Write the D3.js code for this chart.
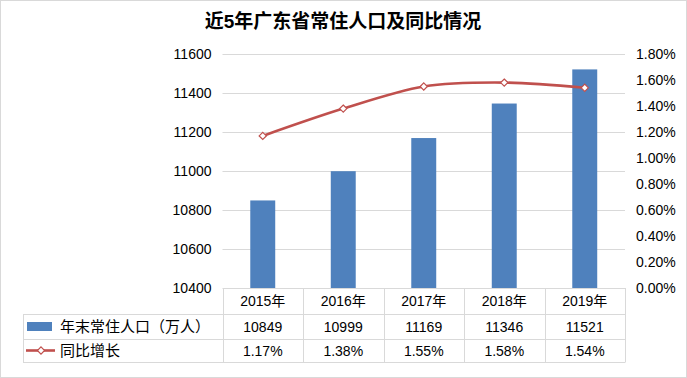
<!DOCTYPE html>
<html>
<head>
<meta charset="utf-8">
<script src="https://cdn.jsdelivr.net/npm/d3@7"></script>
<style>
  html, body { margin: 0; padding: 0; background: #fff; }
  #chart { width: 687px; height: 378px; }
  text { font-family: "Liberation Sans", "Noto Sans CJK SC", sans-serif; fill: #000; }
</style>
</head>
<body>
<div id="chart"></div>
<script>
// Population (bars, left axis) and YoY growth (smoothed line, right axis),
// with an Excel-style data table underneath the plot.
var years = ['2015年', '2016年', '2017年', '2018年', '2019年'];
var population = [10849, 10999, 11169, 11346, 11521];
var growth = [1.17, 1.38, 1.55, 1.58, 1.54];
var leftTicks = [10400, 10600, 10800, 11000, 11200, 11400, 11600];
var rightTicks = [0, 0.2, 0.4, 0.6, 0.8, 1.0, 1.2, 1.4, 1.6, 1.8];
var seriesNames = ['年末常住人口（万人）', '同比增长'];

(function () {
    var W = 687, H = 378;
    var barColor = '#4f81bd', lineColor = '#c0504d', gridColor = '#d9d9d9';
    var plot = { left: 222.5, right: 625, top: 54, bottom: 288 };
    var tableLeft = 23;
    var rowLines = [288, 314, 339, 362];

    var svg = d3.select('#chart').append('svg')
        .attr('width', W).attr('height', H);

    svg.append('rect')
        .attr('x', 0.5).attr('y', 0.5).attr('width', W - 1).attr('height', H - 1)
        .attr('fill', '#fff').attr('stroke', gridColor);

    var x = d3.scaleBand().domain(years).range([plot.left, plot.right]);
    var yL = d3.scaleLinear().domain([10400, 11600]).range([plot.bottom, plot.top]);
    var yR = d3.scaleLinear().domain([0, 1.8]).range([plot.bottom, plot.top]);

    // Title
    svg.append('text')
        .attr('x', 343).attr('y', 28)
        .attr('text-anchor', 'middle')
        .style('font-size', '19px').style('font-weight', 'bold')
        .text('近5年广东省常住人口及同比情况');

    // Gridlines
    svg.append('g').selectAll('line')
        .data(leftTicks.slice(1)).enter().append('line')
        .attr('x1', plot.left).attr('x2', plot.right)
        .attr('y1', function (d) { return Math.round(yL(d)) + 0.5; })
        .attr('y2', function (d) { return Math.round(yL(d)) + 0.5; })
        .attr('stroke', gridColor).attr('stroke-width', 1);

    // Left axis
    var axL = svg.append('g')
        .attr('transform', 'translate(' + (plot.left - 11) + ',0)')
        .call(d3.axisLeft(yL).tickValues(leftTicks).tickSize(0).tickPadding(0)
            .tickFormat(d3.format('d')));
    axL.select('.domain').remove();
    axL.selectAll('text').style('font-size', '14px').attr('dy', '0.35em')
        .style('font-family', '"Liberation Sans", sans-serif').attr('fill', '#000');

    // Right axis
    var axR = svg.append('g')
        .attr('transform', 'translate(' + (plot.right + 11) + ',0)')
        .call(d3.axisRight(yR).tickValues(rightTicks).tickSize(0).tickPadding(0)
            .tickFormat(function (d) { return d.toFixed(2) + '%'; }));
    axR.select('.domain').remove();
    axR.selectAll('text').style('font-size', '14px').attr('dy', '0.35em')
        .style('font-family', '"Liberation Sans", sans-serif').attr('fill', '#000');

    // Bars
    var barW = x.bandwidth() * 0.31;
    svg.append('g').selectAll('rect')
        .data(population).enter().append('rect')
        .attr('x', function (d, i) { return x(years[i]) + x.bandwidth() / 2 - barW / 2; })
        .attr('y', function (d) { return yL(d); })
        .attr('width', barW)
        .attr('height', function (d) { return yL(10400) - yL(d); })
        .attr('fill', barColor);

    // Smoothed growth line
    var cx = function (i) { return x(years[i]) + x.bandwidth() / 2; };
    var line = d3.line()
        .x(function (d, i) { return cx(i); })
        .y(function (d) { return yR(d); })
        .curve(d3.curveCardinal.tension(0.1));
    svg.append('path').datum(growth)
        .attr('d', line).attr('fill', 'none')
        .attr('stroke', lineColor).attr('stroke-width', 2.6)
        .attr('stroke-linecap', 'round');

    function diamond(sel, px, py) {
        var r = 3.6;
        sel.append('path')
            .attr('d', 'M' + px + ',' + (py - r) + 'L' + (px + r) + ',' + py +
                'L' + px + ',' + (py + r) + 'L' + (px - r) + ',' + py + 'Z')
            .attr('fill', '#fff').attr('stroke', lineColor).attr('stroke-width', 1.2);
    }
    growth.forEach(function (d, i) { diamond(svg, cx(i), yR(d)); });

    // Data table
    var tg = svg.append('g');
    rowLines.forEach(function (ry, k) {
        tg.append('line')
            .attr('x1', k === 0 ? plot.left : tableLeft).attr('x2', plot.right)
            .attr('y1', ry + 0.5).attr('y2', ry + 0.5)
            .attr('stroke', gridColor);
    });
    var colEdges = years.map(function (y) { return x(y); }).concat([plot.right]);
    colEdges.forEach(function (cxl) {
        tg.append('line')
            .attr('x1', Math.round(cxl) + 0.5).attr('x2', Math.round(cxl) + 0.5)
            .attr('y1', rowLines[0]).attr('y2', rowLines[3] + 0.5)
            .attr('stroke', gridColor);
    });
    tg.append('line')
        .attr('x1', tableLeft + 0.5).attr('x2', tableLeft + 0.5)
        .attr('y1', rowLines[1]).attr('y2', rowLines[3] + 0.5)
        .attr('stroke', gridColor);

    var rowMid = function (k) { return (rowLines[k] + rowLines[k + 1]) / 2; };
    var rows = [
        years,
        population.map(function (d) { return String(d); }),
        growth.map(function (d) { return d.toFixed(2) + '%'; })
    ];
    rows.forEach(function (vals, k) {
        tg.selectAll(null).data(vals).enter().append('text')
            .attr('x', function (d, i) { return cx(i); })
            .attr('y', rowMid(k)).attr('dy', '0.36em')
            .attr('text-anchor', 'middle')
            .style('font-size', '14px')
            .text(function (d) { return d; });
    });

    // Legend keys inside the table
    tg.append('rect')
        .attr('x', 27).attr('y', rowMid(1) - 4.5).attr('width', 25).attr('height', 9)
        .attr('fill', barColor);
    tg.append('line')
        .attr('x1', 26).attr('x2', 55).attr('y1', rowMid(2)).attr('y2', rowMid(2))
        .attr('stroke', lineColor).attr('stroke-width', 2.6);
    diamond(tg, 41, rowMid(2));
    seriesNames.forEach(function (name, k) {
        tg.append('text')
            .attr('x', 60).attr('y', rowMid(k + 1)).attr('dy', '0.36em')
            .style('font-size', '15px')
            .text(name);
    });
})();
</script>
</body>
</html>
